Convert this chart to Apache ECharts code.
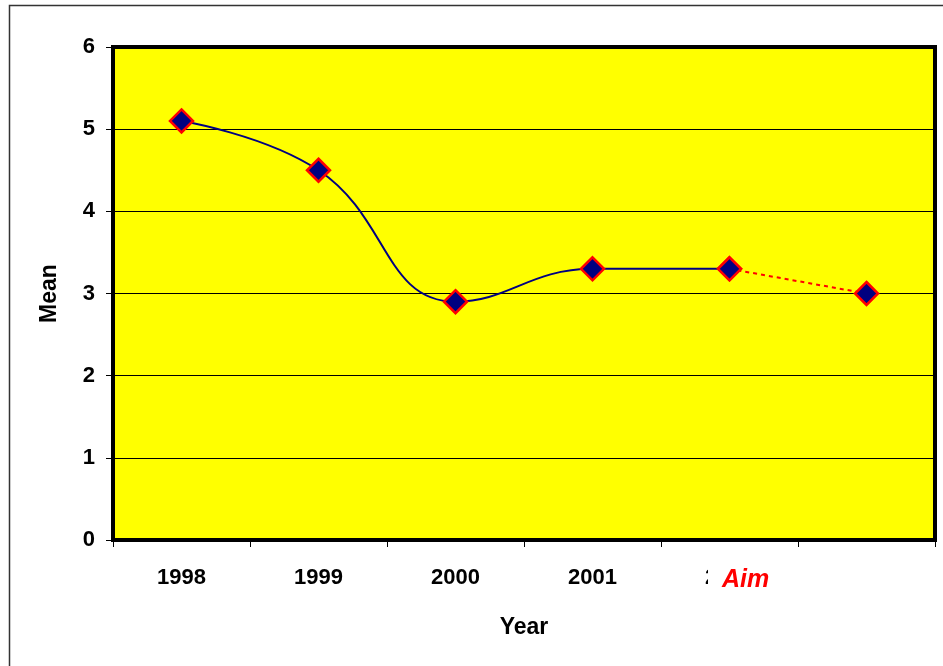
<!DOCTYPE html>
<html><head><meta charset="utf-8">
<script src="https://cdn.jsdelivr.net/npm/echarts@6/dist/echarts.min.js"></script>
<style>html,body{margin:0;padding:0;background:#fff}#c{width:943px;height:666px}</style>
</head><body><div id="c"></div>
<script>
var categories = ['1998','1999','2000','2001','2002',''];
var actualValues = [5.1, 4.5, 2.9, 3.3, 3.3, null];
var aimValues = [null, null, null, null, 3.3, 3.0];
var yTicks = [0,1,2,3,4,5,6];

var chart = echarts.init(document.getElementById('c'));
var font = 'Liberation Sans, Arial, sans-serif';
var marker = {color:'#000080', borderColor:'#ff0000', borderWidth:2.5};
chart.setOption({
  animation:false,
  backgroundColor:'#fff',
  grid:{left:113, top:47, width:822, height:493, show:true, backgroundColor:'#ffff00', borderColor:'#000', borderWidth:4},
  xAxis:{type:'category', data:categories, boundaryGap:true,
    name:'Year', nameLocation:'middle', nameGap:76,
    nameTextStyle:{fontFamily:font, fontWeight:'bold', fontSize:23, color:'#000'},
    axisLine:{lineStyle:{color:'#000', width:1}},
    axisTick:{show:true, inside:false, length:7, alignWithLabel:false, lineStyle:{color:'#000'}},
    axisLabel:{fontFamily:font, fontWeight:'bold', fontSize:22, color:'#000', margin:27, interval:0},
    splitLine:{show:false}},
  yAxis:{type:'value', min:0, max:6, interval:1,
    name:'Mean', nameLocation:'middle', nameGap:52, nameRotate:90,
    nameTextStyle:{fontFamily:font, fontWeight:'bold', fontSize:23, color:'#000'},
    axisLine:{show:true, lineStyle:{color:'#000'}},
    axisTick:{show:true, length:7, lineStyle:{color:'#000'}},
    axisLabel:{fontFamily:font, fontWeight:'bold', fontSize:22, color:'#000', margin:18,
      formatter:function(v){return yTicks.indexOf(v)>=0?String(v):'';}},
    splitLine:{show:true, lineStyle:{color:'#000', width:1}}},
  graphic:[
    {type:'rect', shape:{x:9.5, y:5.5, width:950, height:700}, style:{fill:'none', stroke:'#333', lineWidth:1.5}, z:-10},
    {type:'text', left:708, top:566, z:100,
      style:{text:'Aim', fill:'#ff0000', font:'italic bold 25px Liberation Sans, Arial, sans-serif',
        backgroundColor:'#fff', padding:[2,4,2,14]}}
  ],
  series:[
    {type:'line', data:actualValues, smooth:0.45, symbol:'diamond', symbolSize:23,
      lineStyle:{color:'#000080', width:2}, itemStyle:marker, z:3},
    {type:'line', data:aimValues, smooth:false, symbol:'diamond', symbolSize:23,
      lineStyle:{color:'#ff0000', width:2, type:[4,4]}, itemStyle:marker, z:2}
  ]
});
</script></body></html>
